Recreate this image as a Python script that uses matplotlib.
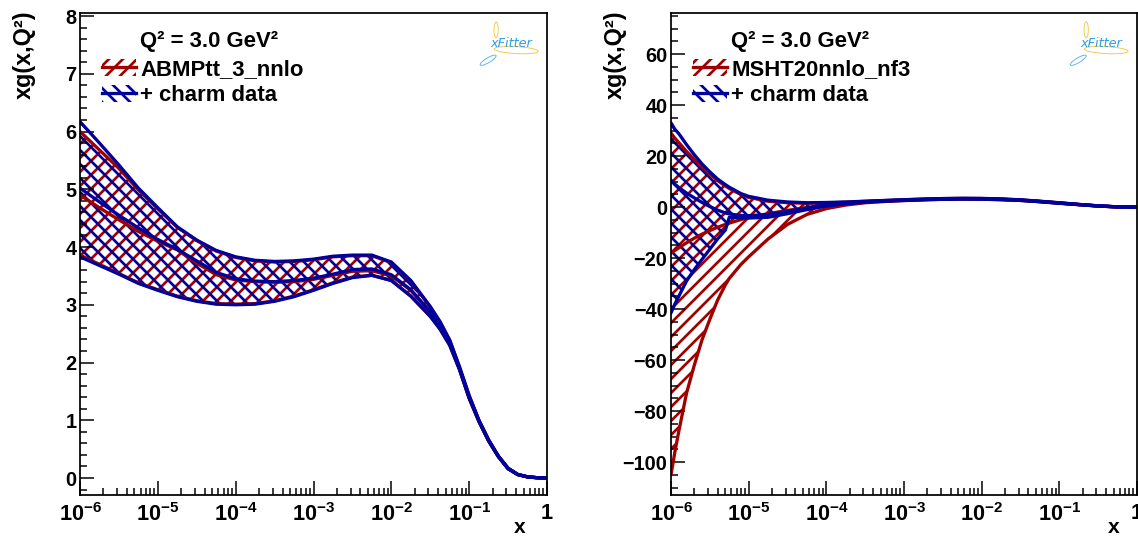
import numpy as np
import matplotlib
matplotlib.use('Agg')
import matplotlib.pyplot as plt
from matplotlib.patches import Patch, Ellipse
from matplotlib.lines import Line2D
from matplotlib.ticker import FixedLocator, LogLocator, MultipleLocator, NullFormatter

RED = '#a00000'
BLUE = '#00009c'
FONT = 'Liberation Sans'

plt.rcParams.update({
    'font.family': [FONT, 'DejaVu Sans'],
    'font.weight': 'bold',
    'mathtext.fontset': 'custom',
    'mathtext.rm': 'Liberation Sans:bold',
    'mathtext.bf': 'Liberation Sans:bold',
    'mathtext.it': 'Liberation Sans:bold',
    'hatch.linewidth': 2.3,
    'axes.linewidth': 1.5,
})

# ---- left panel: ABMPtt_3_nnlo vs + charm data (log10 x grid) ----
lx_left = [-6.0, -5.75, -5.5, -5.25, -5.0, -4.75, -4.5, -4.25, -4.0, -3.75, -3.5, -3.25,
           -3.0, -2.75, -2.5, -2.25, -2.0, -1.75, -1.5, -1.375, -1.25, -1.125, -1.0,
           -0.875, -0.75, -0.625, -0.5, -0.375, -0.25, -0.125, 0.0]
abmp_up = [6.00, 5.68, 5.36, 4.99, 4.66, 4.34, 4.11, 3.93, 3.82, 3.76, 3.74, 3.75,
           3.78, 3.83, 3.85, 3.85, 3.73, 3.41, 2.96, 2.70, 2.38, 1.92, 1.42,
           1.00, 0.66, 0.38, 0.17, 0.06, 0.02, 0.005, 0.00]
abmp_lo = [3.86, 3.70, 3.54, 3.38, 3.26, 3.15, 3.07, 3.02, 3.01, 3.02, 3.07, 3.15,
           3.26, 3.38, 3.48, 3.51, 3.42, 3.15, 2.80, 2.58, 2.30, 1.88, 1.38,
           0.98, 0.64, 0.37, 0.16, 0.06, 0.02, 0.005, 0.00]
abmp_mid = [4.90, 4.68, 4.47, 4.27, 4.10, 3.95, 3.72, 3.52, 3.43, 3.40, 3.39, 3.40,
            3.44, 3.51, 3.58, 3.59, 3.50, 3.25, 2.87, 2.63, 2.34, 1.90, 1.40,
            0.99, 0.65, 0.375, 0.165, 0.06, 0.02, 0.005, 0.00]
charm_up = [6.17, 5.80, 5.42, 5.02, 4.68, 4.35, 4.12, 3.94, 3.83, 3.77, 3.75, 3.76,
            3.79, 3.84, 3.86, 3.86, 3.74, 3.42, 2.97, 2.71, 2.39, 1.93, 1.43,
            1.00, 0.66, 0.38, 0.17, 0.06, 0.02, 0.005, 0.00]
charm_lo = [3.83, 3.68, 3.53, 3.37, 3.25, 3.14, 3.06, 3.01, 3.00, 3.01, 3.06, 3.14,
            3.25, 3.37, 3.47, 3.51, 3.42, 3.15, 2.80, 2.58, 2.30, 1.88, 1.38,
            0.98, 0.64, 0.37, 0.16, 0.06, 0.02, 0.005, 0.00]
charm_mid = [5.02, 4.78, 4.55, 4.33, 4.13, 3.96, 3.76, 3.56, 3.45, 3.41, 3.40, 3.42,
             3.46, 3.53, 3.61, 3.62, 3.52, 3.26, 2.88, 2.64, 2.35, 1.90, 1.40,
             0.99, 0.65, 0.375, 0.165, 0.06, 0.02, 0.005, 0.00]

# ---- right panel: MSHT20nnlo_nf3 vs + charm data ----
lx_right = [-6.0, -5.95, -5.9, -5.8, -5.7, -5.6, -5.5, -5.4, -5.3, -5.25, -5.1, -5.0,
            -4.75, -4.5, -4.25, -4.0, -3.75, -3.5, -3.25, -3.0, -2.75, -2.5, -2.25,
            -2.0, -1.75, -1.5, -1.25, -1.0, -0.75, -0.5, -0.25, 0.0]
msht_up = [29.0, 27.0, 25.3, 21.8, 18.6, 15.6, 12.9, 10.4, 8.3, 7.3, 4.9, 3.8,
           2.3, 1.7, 1.5, 1.6, 1.9, 2.25, 2.55, 2.85, 3.1, 3.3, 3.4, 3.35,
           3.15, 2.8, 2.25, 1.65, 1.02, 0.47, 0.08, 0.0]
msht_lo = [-105.0, -96.0, -88.0, -73.0, -62.0, -52.0, -44.0, -36.5, -30.5, -28.0, -22.5, -19.5,
           -12.5, -6.8, -2.9, -0.6, 0.8, 1.7, 2.2, 2.55, 2.85, 3.05, 3.15, 3.1,
           2.9, 2.6, 2.1, 1.5, 0.95, 0.4, 0.06, 0.0]
msht_mid = [-18.0, -17.0, -16.0, -14.0, -12.2, -10.6, -9.2, -7.9, -6.8, -6.3, -4.9, -4.1,
            -2.6, -1.3, -0.2, 0.8, 1.5, 2.05, 2.4, 2.7, 2.97, 3.17, 3.27, 3.22,
            3.02, 2.7, 2.17, 1.57, 0.98, 0.43, 0.07, 0.0]
charm2_up = [33.0, 30.5, 28.8, 24.5, 20.5, 16.9, 13.8, 11.0, 8.8, 7.8, 5.3, 4.2,
             2.7, 2.0, 1.7, 1.8, 2.0, 2.3, 2.6, 2.9, 3.15, 3.35, 3.45, 3.4,
             3.2, 2.85, 2.3, 1.7, 1.05, 0.5, 0.1, 0.0]
charm2_lo = [-41.5, -38.0, -35.0, -29.0, -24.5, -20.5, -16.5, -12.5, -9.0, -4.0, -4.2, -4.3,
             -4.0, -2.6, -1.0, 0.4, 1.3, 1.9, 2.3, 2.6, 2.85, 3.05, 3.15, 3.1,
             2.9, 2.6, 2.1, 1.5, 0.95, 0.4, 0.06, 0.0]
charm2_mid = [10.5, 9.0, 7.7, 5.5, 3.6, 1.8, 0.2, -1.2, -2.3, -2.7, -3.3, -3.4,
              -2.9, -1.7, -0.3, 0.9, 1.6, 2.1, 2.45, 2.75, 3.0, 3.2, 3.3, 3.25,
              3.05, 2.72, 2.2, 1.6, 1.0, 0.45, 0.08, 0.0]

x_ticks = [1e-6, 1e-5, 1e-4, 1e-3, 1e-2, 1e-1, 1.0]
x_tick_labels = ['$10^{-6}$', '$10^{-5}$', '$10^{-4}$', '$10^{-3}$', '$10^{-2}$', '$10^{-1}$', '1']

panels = [
    dict(lx=lx_left, label='ABMPtt_3_nnlo',
         red=(abmp_up, abmp_lo, abmp_mid), blue=(charm_up, charm_lo, charm_mid),
         ylim=(-0.294, 8.052), major=1, minor=0.2, xlab=0.942),
    dict(lx=lx_right, label='MSHT20nnlo_nf3',
         red=(msht_up, msht_lo, msht_mid), blue=(charm2_up, charm2_lo, charm2_mid),
         ylim=(-112.9, 76.1), major=20, minor=5, xlab=0.951),
]

fig = plt.figure(figsize=(1138 / 84, 539 / 84), dpi=84)
axes = [fig.add_axes([80 / 1138, 44 / 539, 467 / 1138, 482 / 539]),
        fig.add_axes([671 / 1138, 44 / 539, 466 / 1138, 482 / 539])]


def draw_band(ax, x, up, lo, color, hatch):
    ax.fill(np.concatenate([x, x[::-1]]), np.concatenate([up, lo[::-1]]),
            facecolor='none', edgecolor=color, hatch=hatch, linewidth=0)


for ax, p in zip(axes, panels):
    x = 10 ** np.array(p['lx'])
    red = [np.array(v) for v in p['red']]
    blue = [np.array(v) for v in p['blue']]

    draw_band(ax, x, red[0], red[1], RED, '//')
    draw_band(ax, x, blue[0], blue[1], BLUE, '\\\\')
    for v in red:
        ax.plot(x, v, color=RED, lw=2.8, solid_capstyle='round', solid_joinstyle='round')
    for v in blue:
        ax.plot(x, v, color=BLUE, lw=2.8, solid_capstyle='round', solid_joinstyle='round')

    ax.set_xscale('log')
    ax.set_xlim(1e-6, 1.0)
    ax.set_ylim(*p['ylim'])
    ax.xaxis.set_major_locator(FixedLocator(x_ticks))
    ax.set_xticklabels(x_tick_labels)
    ax.xaxis.set_minor_locator(LogLocator(base=10, subs=np.arange(2, 10), numticks=100))
    ax.xaxis.set_minor_formatter(NullFormatter())
    ax.yaxis.set_major_locator(MultipleLocator(p['major']))
    ax.yaxis.set_minor_locator(MultipleLocator(p['minor']))
    ax.tick_params(which='both', direction='in', top=False, right=False, width=1.3)
    ax.tick_params(which='major', length=12)
    ax.tick_params(which='minor', length=6)
    ax.tick_params(axis='x', labelsize=18.5, pad=7)
    ax.tick_params(axis='y', labelsize=17, pad=3)

    ax.set_ylabel('xg(x,Q²)', fontsize=20, fontweight='bold', loc='top')
    ax.yaxis.set_label_coords(-0.095, 1.006)
    ax.set_xlabel('x', fontsize=18, fontweight='bold')
    ax.xaxis.set_label_coords(p['xlab'], -0.048)

    # legend
    ax.text(0.128, 0.94, 'Q² = 3.0 GeV²', transform=ax.transAxes, fontsize=19,
            fontweight='bold', va='center', ha='left')
    handles = [(Patch(facecolor='none', edgecolor=RED, hatch='//', linewidth=0),
                Line2D([], [], color=RED, lw=2.8)),
               (Patch(facecolor='none', edgecolor=BLUE, hatch='\\\\', linewidth=0),
                Line2D([], [], color=BLUE, lw=2.8))]
    ax.legend(handles, [p['label'], '+ charm data'], loc='upper left',
              bbox_to_anchor=(0.048, 0.905), frameon=False, fontsize=19,
              handlelength=1.5, handleheight=0.8, handletextpad=0.2,
              labelspacing=0.22, borderpad=0, borderaxespad=0)

    # xFitter logo
    ax.text(0.923, 0.936, 'xFitter', transform=ax.transAxes, fontsize=11,
            fontstyle='italic', fontweight='normal', color='#2b9fe0',
            ha='center', va='center', family='DejaVu Sans')
    ax.add_patch(Ellipse((0.934, 0.923), 0.094, 0.0145, angle=-3, transform=ax.transAxes,
                         fill=False, edgecolor='#f5c64a', lw=0.8))
    ax.add_patch(Ellipse((0.891, 0.965), 0.009, 0.033, transform=ax.transAxes,
                         fill=False, edgecolor='#f5c64a', lw=0.8))
    ax.add_patch(Ellipse((0.874, 0.902), 0.039, 0.010, angle=30, transform=ax.transAxes,
                         fill=False, edgecolor='#5ab4ee', lw=0.8))

fig.savefig('out.png', dpi=84, facecolor='white')
